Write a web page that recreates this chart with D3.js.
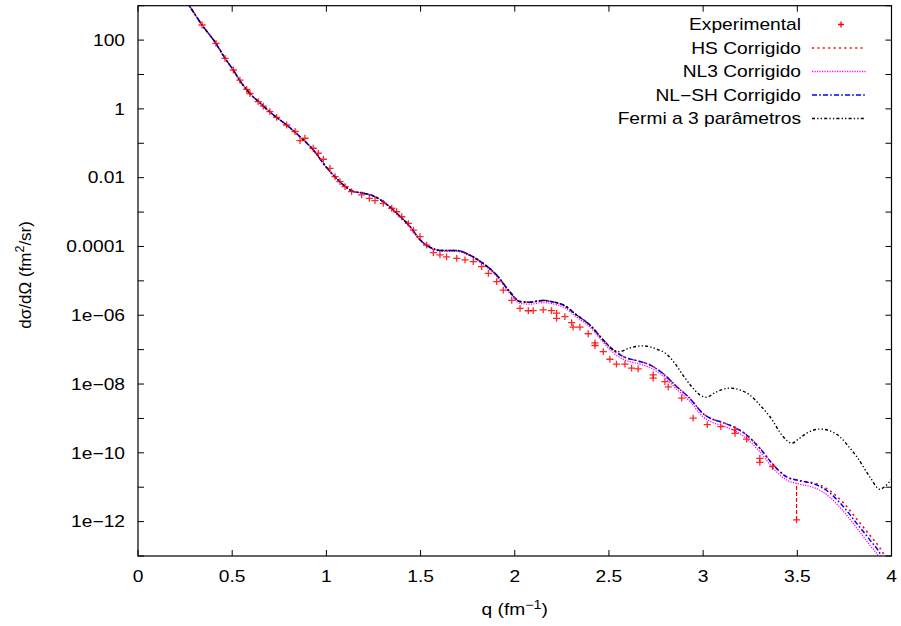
<!DOCTYPE html>
<html>
<head>
<meta charset="utf-8">
<script src="https://cdnjs.cloudflare.com/ajax/libs/d3/7.8.5/d3.min.js"></script>
<style>
  html, body { margin: 0; padding: 0; background: #fff; }
  svg { display: block; }
  text { font-family: "Liberation Sans", Arial, Helvetica, sans-serif; fill: #000; }
</style>
</head>
<body>
<svg id="chart" width="901" height="626"></svg>
<script>
// ---------------- data ----------------
const xTicks = [0, 0.5, 1, 1.5, 2, 2.5, 3, 3.5, 4];
const xTickLabels = ["0", "0.5", "1", "1.5", "2", "2.5", "3", "3.5", "4"];
const yTicks = [1e3,1e2,1e1,1e0,1e-1,1e-2,1e-3,1e-4,1e-5,1e-6,1e-7,1e-8,1e-9,1e-10,1e-11,1e-12,1e-13];
const yLabelTicks = [1e2, 1e0, 1e-2, 1e-4, 1e-6, 1e-8, 1e-10, 1e-12];
const yTickLabels = ["100", "1", "0.01", "0.0001", "1e\u221206", "1e\u221208", "1e\u221210", "1e\u221212"];

const seriesNames = ["Experimental", "HS Corrigido", "NL3 Corrigido", "NL\u2212SH Corrigido", "Fermi a 3 par\u00e2metros"];

// experimental points
const expQ = [0.340,0.414,0.462,0.506,0.541,0.577,0.594,0.638,0.665,0.700,0.736,0.789,0.834,0.860,0.886,0.930,0.957,0.984,1.019,1.046,
  1.072,1.099,1.134,1.187,1.228,1.258,1.302,1.347,1.373,1.400,1.435,1.462,1.497,1.532,1.568,1.603,1.638,1.692,1.736,1.780,
  1.824,1.860,1.904,1.939,1.984,2.028,2.072,2.098,2.151,2.195,2.222,2.222,2.266,2.302,2.310,2.346,2.390,2.426,2.426,2.470,
  2.505,2.540,2.585,2.620,2.655,2.735,2.735,2.797,2.815,2.886,2.947,3.022,3.094,3.169,3.169,3.231,3.301,3.301,3.369,3.496];
const expY = [275,80.7,29.5,13.5,6.9,3.7,2.8,1.62,1.2,0.83,0.57,0.34,0.22,0.12,0.14,0.0716,0.0513,0.0343,0.0187,0.0107,
  7.66e-3,5.5e-3,3.92e-3,3.14e-3,2.5e-3,2.14e-3,1.8e-3,1.29e-3,1.02e-3,7.3e-4,4.7e-4,3.0e-4,1.93e-4,1.1e-4,6.6e-5,5.66e-5,5.0e-5,4.5e-5,4.05e-5,3.6e-5,
  2.6e-5,1.66e-5,9.5e-6,5.4e-6,2.7e-6,1.58e-6,1.35e-6,1.36e-6,1.43e-6,1.36e-6,1.15e-6,8.1e-7,9.1e-7,6.1e-7,4.5e-7,4.5e-7,2.9e-7,1.58e-7,1.32e-7,8.7e-8,
  5.25e-8,3.8e-8,3.8e-8,2.9e-8,2.75e-8,1.84e-8,1.48e-8,1.17e-8,8.3e-9,3.9e-9,1.02e-9,6.6e-10,5.75e-10,4.7e-10,3.7e-10,2.5e-10,6.9e-11,5.25e-11,4.0e-11,1.12e-12];
// visible error bar
const errQ = [3.496];
const errLow = [1.12e-12];
const errHigh = [1.26e-11];

// theoretical curves
const curveQ = [0.25,0.272,0.34,0.414,0.462,0.506,0.541,0.594,0.648,0.718,0.789,0.86,0.93,1.0,1.063,1.09,1.143,1.196,1.249,1.302,
  1.373,1.444,1.497,1.55,1.621,1.692,1.762,1.833,1.904,1.975,2.028,2.08,2.151,2.2,2.257,2.328,2.399,2.47,2.523,2.576,
  2.647,2.718,2.788,2.859,2.93,3.0,3.05,3.089,3.16,3.231,3.301,3.372,3.443,3.514,3.602,3.673,3.744,3.815,3.885,3.938,3.97];
const nlshY = [1.5e3,1.0e3,275,79.4,29.5,13.5,6.6,2.82,1.48,0.676,0.339,0.155,0.0646,0.020,8.5e-3,6.2e-3,3.98e-3,3.55e-3,2.95e-3,2.0e-3,
  9.3e-4,3.8e-4,1.58e-4,9.5e-5,7.6e-5,7.6e-5,5.6e-5,3.2e-5,1.48e-5,4.7e-6,2.5e-6,2.4e-6,2.7e-6,2.45e-6,2.0e-6,1.02e-6,5.2e-7,1.9e-7,9.8e-8,6.3e-8,
  4.8e-8,3.6e-8,2.0e-8,8.5e-9,3.8e-9,1.38e-9,9.5e-10,8.1e-10,5.75e-10,3.3e-10,1.35e-10,4.5e-11,2.0e-11,1.55e-11,1.17e-11,6.8e-12,2.75e-12,8.9e-13,2.95e-13,1.2e-13,5e-14];
const hsY = [1.5e3,1.0e3,275,79.4,29.5,13.5,6.6,2.82,1.48,0.676,0.339,0.155,0.0646,0.020,8.5e-3,6.2e-3,3.98e-3,3.55e-3,2.95e-3,2.0e-3,
  9.3e-4,3.8e-4,1.58e-4,9.5e-5,7.6e-5,7.6e-5,5.6e-5,3.2e-5,1.48e-5,4.7e-6,2.5e-6,2.4e-6,2.7e-6,2.45e-6,2.0e-6,1.02e-6,5.2e-7,1.9e-7,9.8e-8,6.3e-8,
  4.8e-8,3.6e-8,2.0e-8,8.5e-9,3.8e-9,1.38e-9,9.5e-10,8.1e-10,5.75e-10,3.3e-10,1.35e-10,4.5e-11,2.0e-11,1.55e-11,1.26e-11,7.9e-12,3.55e-12,1.2e-12,4.0e-13,1.74e-13,8.9e-14];
const nl3Y = [1.5e3,1.0e3,275,79.4,29.5,13.5,6.6,2.82,1.48,0.676,0.339,0.155,0.0646,0.020,8.5e-3,6.2e-3,3.98e-3,3.55e-3,2.95e-3,2.0e-3,
  9.3e-4,3.7e-4,1.51e-4,9.1e-5,7.2e-5,7.2e-5,5.25e-5,2.95e-5,1.35e-5,4.3e-6,2.2e-6,2.1e-6,2.35e-6,2.15e-6,1.74e-6,8.9e-7,4.5e-7,1.62e-7,8.1e-8,5.25e-8,
  4.0e-8,3.0e-8,1.7e-8,7.1e-9,3.1e-9,1.1e-9,7.6e-10,6.5e-10,4.6e-10,2.6e-10,1.07e-10,3.55e-11,1.62e-11,1.23e-11,9.1e-12,5.1e-12,2.0e-12,6.6e-13,2.1e-13,8.7e-14,4e-14];
const fermiQ = [0.25,0.272,0.34,0.414,0.462,0.506,0.541,0.594,0.648,0.718,0.789,0.86,0.93,1.0,1.063,1.09,1.143,1.196,1.249,1.302,
  1.373,1.444,1.497,1.55,1.621,1.692,1.762,1.833,1.904,1.975,2.028,2.08,2.151,2.2,2.257,2.328,2.399,2.47,2.523,2.558,
  2.60,2.682,2.75,2.806,2.85,2.894,2.94,2.983,3.018,3.06,3.10,3.142,3.20,3.248,3.30,3.355,3.425,3.47,3.51,3.549,
  3.62,3.68,3.726,3.77,3.815,3.885,3.938,3.96,3.99,4.0];
const fermiY = [1.5e3,1.0e3,275,79.4,29.5,13.5,6.6,2.82,1.48,0.676,0.339,0.155,0.0646,0.020,8.5e-3,6.2e-3,3.98e-3,3.55e-3,2.95e-3,2.0e-3,
  9.3e-4,3.8e-4,1.58e-4,9.5e-5,7.6e-5,7.6e-5,5.6e-5,3.2e-5,1.48e-5,4.7e-6,2.5e-6,2.4e-6,2.7e-6,2.45e-6,2.0e-6,1.02e-6,5.2e-7,1.9e-7,9.8e-8,8.7e-8,
  1.07e-7,1.29e-7,1.05e-7,7.4e-8,4.0e-8,1.78e-8,8.3e-9,4.8e-9,4.1e-9,5.5e-9,6.9e-9,7.6e-9,6.6e-9,4.8e-9,2.5e-9,1.12e-9,2.95e-10,1.9e-10,2.6e-10,3.7e-10,
  4.9e-10,4.2e-10,2.95e-10,1.58e-10,7.8e-11,2.0e-11,8.7e-12,1.0e-11,1.45e-11,1.66e-11];

// ---------------- layout ----------------
const SX = 1.2;            // horizontal text stretch of the original raster
const FS = 16;
const plot = {left: 138, right: 891.5, top: 5.7, bottom: 556};
const svg = d3.select("#chart");

const x = d3.scaleLinear().domain([0, 4]).range([plot.left, plot.right]);
const y = d3.scaleLog().domain([1e-13, 1e3]).range([plot.bottom, plot.top]);

function stext(g, px, py, str, anchor) {
  return g.append("text")
    .attr("transform", `translate(${px},${py}) scale(${SX},1)`)
    .attr("text-anchor", anchor)
    .style("font-size", FS + "px")
    .text(str);
}

svg.append("defs").append("clipPath").attr("id", "clip")
  .append("rect").attr("x", plot.left).attr("y", plot.top)
  .attr("width", plot.right - plot.left).attr("height", plot.bottom - plot.top);

// axes (ticks inward, mirrored)
const tickLen = 6;
const axG = svg.append("g").attr("stroke", "#000").attr("stroke-width", 1);
xTicks.forEach(t => {
  axG.append("line").attr("x1", x(t)).attr("x2", x(t)).attr("y1", plot.bottom).attr("y2", plot.bottom - tickLen);
  axG.append("line").attr("x1", x(t)).attr("x2", x(t)).attr("y1", plot.top).attr("y2", plot.top + tickLen);
});
yTicks.forEach(t => {
  axG.append("line").attr("x1", plot.left).attr("x2", plot.left + tickLen).attr("y1", y(t)).attr("y2", y(t));
  axG.append("line").attr("x1", plot.right).attr("x2", plot.right - tickLen).attr("y1", y(t)).attr("y2", y(t));
});
xTicks.forEach((t, i) => stext(svg, x(t), 581.5, xTickLabels[i], "middle"));
yLabelTicks.forEach((t, i) => stext(svg, 125, y(t) + 5.8, yTickLabels[i], "end"));

// axis titles
const xl = stext(svg, (plot.left + plot.right) / 2, 615, "", "middle");
xl.append("tspan").text("q (fm");
xl.append("tspan").attr("dy", -6).style("font-size", "12px").text("\u22121");
xl.append("tspan").attr("dy", 6).text(")");

const yl = svg.append("text")
  .attr("transform", `translate(31,${(plot.top + plot.bottom) / 2 - 6}) rotate(-90)`)
  .attr("text-anchor", "middle").style("font-size", "17px");
yl.append("tspan").text("d\u03c3/d\u03a9 (fm");
yl.append("tspan").attr("dy", -7).style("font-size", "12.5px").text("2");
yl.append("tspan").attr("dy", 7).text("/sr)");

// curves
const line = d3.line().curve(d3.curveMonotoneX);
const cg = svg.append("g").attr("clip-path", "url(#clip)").attr("fill", "none");
const curves = [
  {q: curveQ, v: hsY, color: "#ff0000", dash: "2,3.4", w: 1.6},
  {q: curveQ, v: nl3Y, color: "#ff00ff", dash: "1.2,1.3", w: 1.3},
  {q: curveQ, v: nlshY, color: "#0000ff", dash: "5,2.2,1.6,2.2", w: 1.5},
  {q: fermiQ, v: fermiY, color: "#000000", dash: "3,2.2,1.3,2.2,1.3,2.2", w: 1.4}
];
curves.forEach(c => {
  const pts = c.q.map((q, i) => [x(q), y(c.v[i])]);
  cg.append("path").attr("d", line(pts)).attr("stroke", c.color)
    .attr("stroke-width", c.w).attr("stroke-dasharray", c.dash);
});

// error bars
const eg = svg.append("g").attr("clip-path", "url(#clip)");
errQ.forEach((q, i) => {
  eg.append("line").attr("x1", x(q)).attr("x2", x(q)).attr("y1", y(errLow[i])).attr("y2", y(errHigh[i]))
    .attr("stroke", "#ff0000").attr("stroke-width", 1.2).attr("stroke-dasharray", "4,2");
});

// experimental points
const ms = 3.6, msv = 3.4;
const pg = svg.append("g").attr("clip-path", "url(#clip)").attr("stroke", "#ff0000").attr("stroke-width", 1.3).attr("stroke-opacity", 0.85);
expQ.forEach((q, i) => {
  const px = x(q), py = y(expY[i]);
  pg.append("path").attr("d", `M${px - ms},${py}H${px + ms}M${px},${py - msv}V${py + msv}`);
});

// legend
const legRight = 801, sampleX1 = 812, sampleX2 = 866, legY0 = 24.5, legDy = 23.5;
const lg = svg.append("g");
seriesNames.forEach((name, i) => {
  const cy = legY0 + i * legDy;
  stext(lg, legRight, cy + 5.8, name, "end");
  if (i === 0) {
    const cx = (sampleX1 + sampleX2) / 2 + 2;
    lg.append("path").attr("d", `M${cx - 3},${cy}H${cx + 3}M${cx},${cy - 3}V${cy + 3}`)
      .attr("stroke", "#ff0000").attr("stroke-width", 1.3);
  } else {
    const c = curves[i - 1];
    lg.append("line").attr("x1", sampleX1).attr("x2", sampleX2).attr("y1", cy).attr("y2", cy)
      .attr("stroke", c.color).attr("stroke-width", c.w).attr("stroke-dasharray", c.dash);
  }
});

// frame
svg.append("rect").attr("x", plot.left).attr("y", plot.top)
  .attr("width", plot.right - plot.left).attr("height", plot.bottom - plot.top)
  .attr("fill", "none").attr("stroke", "#000").attr("stroke-width", 1.2);
</script>
</body>
</html>
